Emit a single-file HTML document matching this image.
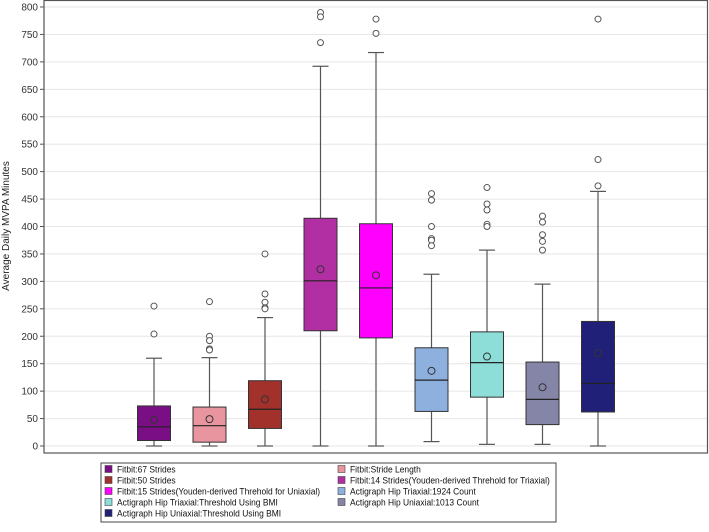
<!DOCTYPE html>
<html><head><meta charset="utf-8"><style>
body{margin:0;background:#fff;font-family:"Liberation Sans",Arial,sans-serif}
svg text{font-family:"Liberation Sans",Arial,sans-serif}
</style></head><body>
<svg id="chart" width="709" height="527" viewBox="0 0 709 527" xmlns="http://www.w3.org/2000/svg">
<g id="grid"></g><g id="yaxis"></g><g id="boxes"></g>
<rect x="44" y="0.5" width="663.5" height="452.5" fill="none" stroke="#555" stroke-width="1.2"/>
<text transform="translate(9,226) rotate(-90)" text-anchor="middle" font-size="10" fill="#222">Average Daily MVPA Minutes</text>
<g id="legend"></g>
</svg>
<script>
const categories=["Fitbit:67 Strides","Fitbit:Stride Length","Fitbit:50 Strides","Fitbit:14 Strides(Youden-derived Threhold for Triaxial)","Fitbit:15 Strides(Youden-derived Threhold for Uniaxial)","Actigraph Hip Triaxial:1924 Count","Actigraph Hip Triaxial:Threshold Using BMI","Actigraph Hip Uniaxial:1013 Count","Actigraph Hip Uniaxial:Threshold Using BMI"];
const colors=["#7a0f85","#e8959f","#a3312b","#b22fa3","#ff00ff","#8db0de","#8dddd8","#8585a8","#212078"];
const mins=[0,0,0,0,0,8,3,3,0];
const q1s=[10,7,32,210,197,63,89,39,62];
const medians=[35,37,67,301,288,120,152,85,114];
const q3s=[73,71,119,415,405,179,208,153,227];
const maxs=[160,161,234,692,717,313,357,295,464];
const means=[48,49,85,322,311,137,163,107,169];
const outliers=[[255,204],[263,200,192,177,175],[350,277,262,252,250],[790,782,735],[778,752],[460,448,400,378,375,365],[471,441,430,404,400],[419,408,385,373,357],[778,522,474]];
const yTicks=[0,50,100,150,200,250,300,350,400,450,500,550,600,650,700,750,800];
const legendOrder=[0,1,2,3,4,5,6,7,8];
const NS="http://www.w3.org/2000/svg";
const y=v=>446-v*(439/800);
const x=i=>154+i*55.5;
function mk(p,t,a){const e=document.createElementNS(NS,t);for(const k in a)e.setAttribute(k,a[k]);p.appendChild(e);return e;}
const G=document.getElementById('grid'),Y=document.getElementById('yaxis'),B=document.getElementById('boxes'),L=document.getElementById('legend');
yTicks.forEach(t=>{
 const l=mk(G,'line',{x1:44,x2:707,y1:y(t),y2:y(t),stroke:'#e6e6e6','stroke-width':1});
 
 
 const tk=mk(Y,'line',{x1:40,x2:44,y1:y(t),y2:y(t),stroke:'#555'});
 
 
 const tx=mk(Y,'text',{x:38,y:y(t)+3.5,'text-anchor':'end','font-size':10,fill:'#333'});
 tx.textContent=t;
 
 
});
categories.forEach((c,i)=>{
 const g=mk(B,'g',{});
 
 
 const cx=x(i),w=33;
 mk(g,'line',{x1:cx,x2:cx,y1:y(mins[i]),y2:y(maxs[i]),stroke:'#555','stroke-width':1.2});
 mk(g,'line',{x1:cx-8,x2:cx+8,y1:y(mins[i]),y2:y(mins[i]),stroke:'#555','stroke-width':1.2});
 mk(g,'line',{x1:cx-8,x2:cx+8,y1:y(maxs[i]),y2:y(maxs[i]),stroke:'#555','stroke-width':1.2});
 mk(g,'rect',{x:cx-w/2,y:y(q3s[i]),width:w,height:y(q1s[i])-y(q3s[i]),fill:colors[i],stroke:'#333','stroke-width':1});
 mk(g,'line',{x1:cx-w/2,x2:cx+w/2,y1:y(medians[i]),y2:y(medians[i]),stroke:'#222','stroke-width':1.2});
 mk(g,'circle',{cx:cx,cy:y(means[i]),r:3.5,fill:'none',stroke:'#333','stroke-width':1});
 outliers[i].forEach(o=>{mk(g,'circle',{cx:cx,cy:y(o),r:3,fill:'#fff',stroke:'#555','stroke-width':1});});
});
const lb=mk(L,'rect',{x:101,y:463,width:455,height:59,fill:'#fff',stroke:'#444','stroke-width':1});


legendOrder.forEach((k,j)=>{
 const col=j%2,row=Math.floor(j/2);
 const lx=col?338:105,ly=469+row*11;
 const e=mk(L,'g',{});
 
 
 mk(e,'rect',{x:lx,y:ly-3.5,width:7,height:7,fill:colors[k],stroke:'#444','stroke-width':0.6});
 const t=mk(e,'text',{'font-size':9.6,fill:'#111',transform:'translate('+(lx+12)+','+(ly+3.5)+') scale(0.88,1)'});
 t.textContent=categories[k];
});
</script>
</body></html>
